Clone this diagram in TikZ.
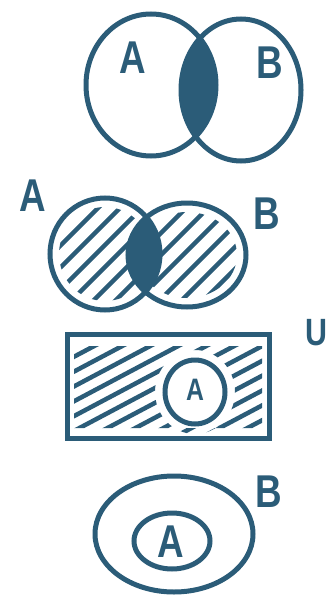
\documentclass[tikz,border=0pt]{standalone}
\usepackage{fontspec}
\setsansfont{Liberation Sans}
\usepackage{xcolor}
\usetikzlibrary{positioning, calc}
\definecolor{ink}{RGB}{43,92,120}

\begin{document}
\begin{tikzpicture}[
		x=1pt, y=-1pt,
		setline/.style={draw=ink, line width=5pt},
		hatch/.style={draw=ink, line width=4.5pt, line cap=round},
		lbl/.style={text=ink, font=\sffamily\bfseries\fontsize{46}{46}\selectfont, inner sep=0pt, xscale=0.8, transform shape},
		smalllbl/.style={lbl, font=\sffamily\bfseries\fontsize{31}{31}\selectfont}
		]
		\useasboundingbox (0,0) rectangle (329,599);
		
		% Interseccion
		\begin{scope}
			\clip (151,85) ellipse [x radius=65, y radius=71];
			\fill[ink] (241,90) ellipse [x radius=60, y radius=71];
		\end{scope}
		\draw[setline] (151,85) ellipse [x radius=65, y radius=71];
		\draw[setline] (241,90) ellipse [x radius=60, y radius=71];
		\node[lbl] (labA1) at (133,58) {A};
		\node[lbl] (labB1) at (270,63) {B};
		
		% Union
		\begin{scope}
			\clip (105,254) ellipse [x radius=46, y radius=47] (187,255) ellipse [x radius=50, y radius=43];
			\foreach \k in {0,...,16}
				\draw[hatch] (-90+22*\k,330) -- ++(150,-150);
		\end{scope}
		\begin{scope}
			\clip (105,254) ellipse [x radius=55, y radius=56];
			\fill[ink] (187,255) ellipse [x radius=59, y radius=52];
		\end{scope}
		\draw[setline] (105,254) ellipse [x radius=55, y radius=56];
		\draw[setline] (187,255) ellipse [x radius=59, y radius=52];
		\node[lbl] (labA2) at (33,196) {A};
		\node[lbl] (labB2) at (267,214) {B};
		
		% Complemento
		\begin{scope}[even odd rule]
			\clip (74,346) rectangle (262,428) (195,392) ellipse [x radius=40, y radius=42];
			\foreach \k in {0,...,14}
				\draw[hatch] (-130+28*\k,450) -- ++(200,-106);
		\end{scope}
		\draw[setline] (67,334) rectangle (269,438);
		\draw[setline] (195,392) ellipse [x radius=30, y radius=32];
		\node[smalllbl] (labA3) at (195,390) {A};
		\node[lbl, font=\sffamily\bfseries\fontsize{38}{38}\selectfont] (labU) at (316,333) {U};
		
		% Subconjunto
		\draw[setline] (174,534) ellipse [x radius=79, y radius=58];
		\draw[setline] (172,541) ellipse [x radius=38, y radius=28];
		\node[lbl] (labA4) at (171,542) {A};
		\node[lbl] (labB4) at (269,492) {B};
	\end{tikzpicture}
\end{document}
